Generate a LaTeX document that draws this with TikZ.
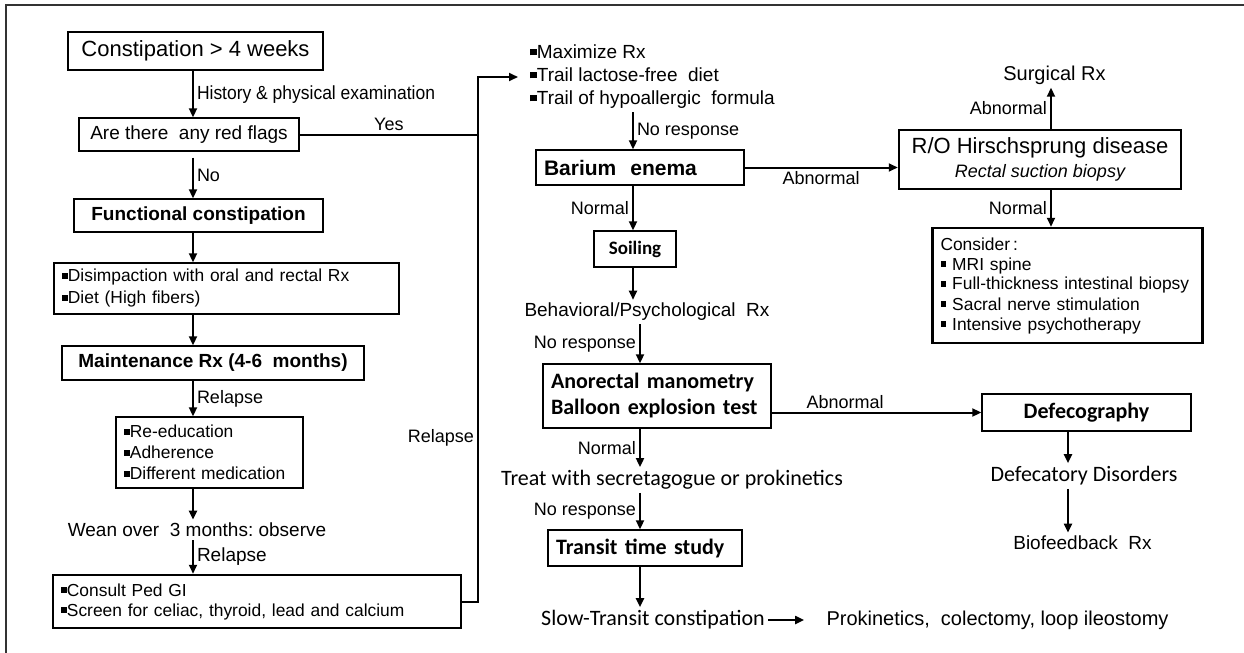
\documentclass[tikz,border=0pt]{standalone}
\usepackage{fontspec}
\setmainfont{Liberation Sans}
\newfontfamily\calfont{Carlito}
\newfontfamily\narrowfont{Liberation Sans}[FakeStretch=0.92]
\usetikzlibrary{arrows.meta}
\newcommand{\sqb}{\rule[0.18em]{0.34em}{0.34em}}

\tikzset{
  box/.style={draw, line width=0.7pt, inner xsep=4pt, inner ysep=2pt},
  thickbox/.style={box, line width=1.25pt},
  txt/.style={inner sep=1.5pt},
  con/.style={line width=1pt},
  arr/.style={con, -{Triangle[length=4.5pt,width=4pt]}},
  lbl/.style={font=\fontsize{9}{10}\selectfont, inner sep=1.5pt}
}

\begin{document}
\begin{tikzpicture}[x=0.5pt, y=-0.5pt]
\useasboundingbox (0,0) rectangle (1244,653);
\draw[line width=0.8pt, black!80] (6,653) -- (6,5) -- (1244,5);

% connector columns
\coordinate (lx) at (193,0);
\coordinate (mx) at (633,0);
\coordinate (nx) at (640,0);
\coordinate (rx) at (1051,0);
\coordinate (dx) at (1068,0);
\coordinate (bus) at (478,77);

% left column
\node[thickbox, minimum width=127.5pt, minimum height=19pt, font=\fontsize{11}{13}\selectfont] (onset) at (195.5,51) {Constipation > 4 weeks};
\node[box, minimum width=110pt, minimum height=16.5pt, font=\fontsize{9.5}{11}\selectfont] (flags) at (189,134.5) {Are there\ \ any red flags};
\node[box, minimum width=124.5pt, minimum height=16.5pt, font=\bfseries\fontsize{9.5}{11}\selectfont] (func) at (198.5,215.5) {Functional constipation};
\node[box, text width=164.5pt, minimum height=25.5pt, align=left, font=\fontsize{8.7}{11}\selectfont] (disimp) at (226.5,288.5) {\sqb Disimpaction with oral and rectal Rx\\ \sqb Diet (High fibers)};
\node[box, minimum width=151pt, minimum height=17pt, font=\bfseries\fontsize{9.5}{11}\selectfont] (maint) at (213,363) {Maintenance Rx (4-6\ \ months)};
\node[box, text width=85.5pt, minimum height=35.5pt, align=left, font=\fontsize{8.7}{10.5}\selectfont] (reedu) at (209.5,452.5) {\sqb Re-education\\ \sqb Adherence\\ \sqb Different medication};
\node[txt, font=\fontsize{9.5}{11}\selectfont] (wean) at (197,530) {Wean over\ \ 3 months:\ observe};
\node[thickbox, text width=196pt, minimum height=26.5pt, align=left, font=\fontsize{8.7}{10}\selectfont] (consult) at (257,601.5) {\sqb Consult Ped GI\\ \sqb Screen for celiac, thyroid, lead and calcium};

% middle column
\node[txt, inner xsep=6pt, anchor=west, align=left, font=\fontsize{9.5}{11.5}\selectfont] (maxi) at (518,77) {\sqb Maximize Rx\\ \sqb Trail lactose-free\ \ diet\\ \sqb Trail\ of\ hypoallergic\ \ formula};
\node[box, text width=96pt, minimum height=17.5pt, align=left, font=\bfseries\fontsize{10.5}{12}\selectfont] (barium) at (640,167.5) {Barium\ \ enema};
\node[box, minimum width=41pt, minimum height=18pt, font=\calfont\bfseries\fontsize{9.5}{11}\selectfont] (soil) at (635,249) {Soiling};
\node[txt, font=\fontsize{9.5}{11}\selectfont] (behav) at (647,312) {Behavioral/Psychological\ \ Rx};
\node[box, text width=106pt, minimum height=32pt, align=left, font=\calfont\bfseries\fontsize{11}{13}\selectfont] (mano) at (657,396) {Anorectal manometry\\ Balloon explosion test};
\node[txt, font=\calfont\fontsize{11}{13}\selectfont] (treat) at (672,480) {Treat with secretagogue or prokinetics};
\node[box, text width=89pt, minimum height=18pt, align=left, font=\calfont\bfseries\fontsize{11}{13}\selectfont] (transit) at (645,548) {Transit time study};
\node[txt, font=\calfont\fontsize{11}{13}\selectfont] (slow) at (653,620) {Slow-Transit constipation};
\node[txt, font=\fontsize{10}{12}\selectfont] (prok) at (997.5,620) {Prokinetics,\ \ colectomy, loop ileostomy};

% right column
\node[txt, font=\fontsize{10}{12}\selectfont] (surg) at (1054.5,75) {Surgical Rx};
\node[thickbox, minimum width=141pt, minimum height=29.5pt, align=center, font=\fontsize{11}{12}\selectfont] (hirsch) at (1040,159.5) {R/O Hirschsprung disease\\ {\itshape\fontsize{9}{10}\selectfont Rectal suction biopsy}};
\node[thickbox, text width=127pt, minimum height=57.5pt, align=left, font=\fontsize{8.7}{10}\selectfont] (consid) at (1067.5,285.5) {Consider\,:\\ \sqb\ MRI spine\\ \sqb\ Full-thickness intestinal biopsy\\ \sqb\ Sacral nerve stimulation\\ \sqb\ Intensive psychotherapy};
\node[box, minimum width=104.5pt, minimum height=18.5pt, font=\calfont\bfseries\fontsize{11}{13}\selectfont] (defeco) at (1086.5,412.5) {Defecography};
\node[txt, font=\calfont\fontsize{11}{13}\selectfont] (disord) at (1084,476) {Defecatory Disorders};
\node[txt, font=\fontsize{9.5}{11}\selectfont] (bio) at (1082.5,543) {Biofeedback\ \ Rx};

% connectors, left
\draw[arr] (onset.south -| lx) -- node[lbl, right, font=\narrowfont\fontsize{9.5}{10}\selectfont]{History \& physical examination} (flags.north -| lx);
\draw[arr, shorten <=3pt] (flags.south -| lx) -- node[lbl, right]{No} (func.north -| lx);
\draw[arr] (func.south -| lx) -- (disimp.north -| lx);
\draw[arr] (disimp.south -| lx) -- (maint.north -| lx);
\draw[arr] (maint.south -| lx) -- node[lbl, right]{Relapse} (reedu.north -| lx);
\draw[arr] (reedu.south -| lx) -- (wean.north -| lx);
\draw[arr] (wean.south -| lx) -- node[lbl, right, font=\fontsize{9.5}{11}\selectfont]{Relapse} (consult.north -| lx);
\draw[con] (flags.east) -- node[lbl, above]{Yes} (flags.east -| bus);
\draw[arr] (consult.east) -| node[lbl, left, pos=0.656]{Relapse} (bus) -- (maxi.west);

% connectors, middle
\draw[arr] (maxi.south -| mx) -- node[lbl, right]{No response} (barium.north -| mx);
\draw[arr] (barium.east) -- node[lbl, below]{Abnormal} (barium.east -| hirsch.west);
\draw[arr] (barium.south -| mx) -- node[lbl, left]{Normal} (soil.north -| mx);
\draw[arr] (soil.south -| mx) -- (behav.north -| mx);
\draw[arr] (behav.south -| nx) -- node[lbl, left]{No response} (mano.north -| nx);
\draw[arr] (mano.east |- defeco.west) -- node[lbl, above, pos=0.35]{Abnormal} (defeco.west);
\draw[arr] (mano.south -| nx) -- node[lbl, left]{Normal} (treat.north -| nx);
\draw[arr] (treat.south -| nx) -- node[lbl, left]{No response} (transit.north -| nx);
\draw[arr] (transit.south -| nx) -- (slow.north -| nx);
\draw[arr, shorten >=9.5pt] (slow.east) -- (prok.west);

% connectors, right
\draw[arr] (hirsch.north -| rx) -- node[lbl, left]{Abnormal} (surg.south -| rx);
\draw[arr] (hirsch.south -| rx) -- node[lbl, left]{Normal} (consid.north -| rx);
\draw[arr] (defeco.south -| dx) -- (disord.north -| dx);
\draw[arr] (disord.south -| dx) -- (bio.north -| dx);
\end{tikzpicture}
\end{document}
